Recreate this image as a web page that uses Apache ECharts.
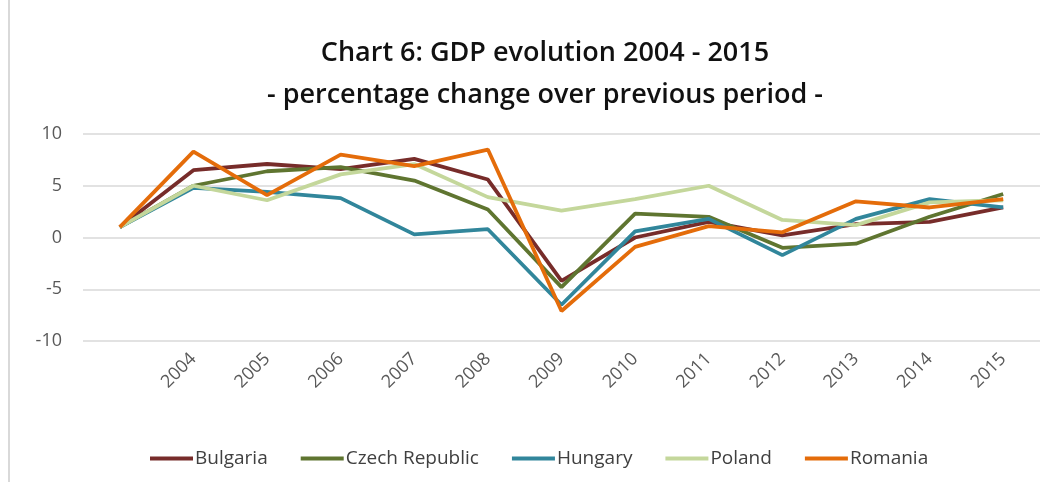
<!DOCTYPE html>
<html>
<head>
<meta charset="utf-8">
<title>GDP evolution 2004 - 2015</title>
<script src="https://cdn.jsdelivr.net/npm/echarts@6/dist/echarts.min.js"></script>
<style>
  html, body { margin: 0; padding: 0; background: #fff; }
  #chart { width: 1050px; height: 482px; }
  #frame { position: absolute; left: 8px; top: 0; width: 2px; height: 482px; background: #d9d9d9; }
</style>
</head>
<body>
<div id="chart"></div>
<div id="frame"></div>
<script>
// first category has no label (starting point of the series)
var years = ['', '2004', '2005', '2006', '2007', '2008', '2009', '2010', '2011', '2012', '2013', '2014', '2015'];

var bulgaria = [1.0, 6.5, 7.1, 6.6, 7.6, 5.6, -4.2, 0.0, 1.5, 0.2, 1.3, 1.5, 2.9];
var czech    = [1.0, 5.0, 6.4, 6.8, 5.5, 2.7, -4.8, 2.3, 2.0, -1.0, -0.6, 2.0, 4.2];
var hungary  = [1.0, 4.8, 4.4, 3.8, 0.3, 0.8, -6.5, 0.6, 1.8, -1.7, 1.8, 3.7, 2.9];
var poland   = [1.0, 5.0, 3.6, 6.1, 7.1, 3.9, 2.6, 3.7, 5.0, 1.7, 1.2, 3.4, 3.6];
var romania  = [1.0, 8.3, 4.1, 8.0, 6.9, 8.5, -7.1, -0.9, 1.1, 0.5, 3.5, 2.9, 3.7];

var font = "'Open Sans', 'Noto Sans', sans-serif";

var chart = echarts.init(document.getElementById('chart'));

function line(name, data, color) {
  return {
    name: name,
    type: 'line',
    data: data,
    symbol: 'none',
    lineStyle: { width: 3.8, color: color },
    itemStyle: { color: color }
  };
}

var option = {
  animation: false,
  title: {
    text: 'Chart 6: GDP evolution 2004 - 2015\n- percentage change over previous period -',
    left: 540,
    textAlign: 'center',
    top: 27,
    textStyle: {
      fontFamily: font,
      fontSize: 27,
      fontWeight: 600,
      color: '#111',
      lineHeight: 42
    }
  },
  legend: {
    bottom: 9,
    left: 145,
    itemWidth: 43,
    itemHeight: 4,
    itemGap: 33,
    icon: 'rect',
    textStyle: { fontFamily: font, fontSize: 19, color: '#404040', padding: [0, 0, 0, -3] },
    data: ['Bulgaria', 'Czech Republic', 'Hungary', 'Poland', 'Romania']
  },
  grid: {
    left: 83,
    right: 10,
    top: 134,
    bottom: 141
  },
  xAxis: {
    type: 'category',
    data: years,
    boundaryGap: true,
    axisLine: { show: false },
    axisTick: { show: false },
    axisLabel: {
      rotate: 45,
      margin: 15,
      interval: 0,
      fontFamily: font,
      fontSize: 18,
      color: '#595959'
    }
  },
  yAxis: {
    type: 'value',
    min: -10,
    max: 10,
    interval: 5,
    axisLine: { show: false },
    axisTick: { show: false },
    axisLabel: {
      margin: 21,
      fontFamily: font,
      fontSize: 18,
      color: '#595959'
    },
    splitLine: { lineStyle: { color: '#d9d9d9', width: 1.5 } }
  },
  series: [
    line('Bulgaria', bulgaria, '#772c2a'),
    line('Czech Republic', czech, '#5f7530'),
    line('Hungary', hungary, '#31869b'),
    line('Poland', poland, '#c4d79b'),
    line('Romania', romania, '#e46c0a')
  ]
};

chart.setOption(option);
</script>
</body>
</html>
